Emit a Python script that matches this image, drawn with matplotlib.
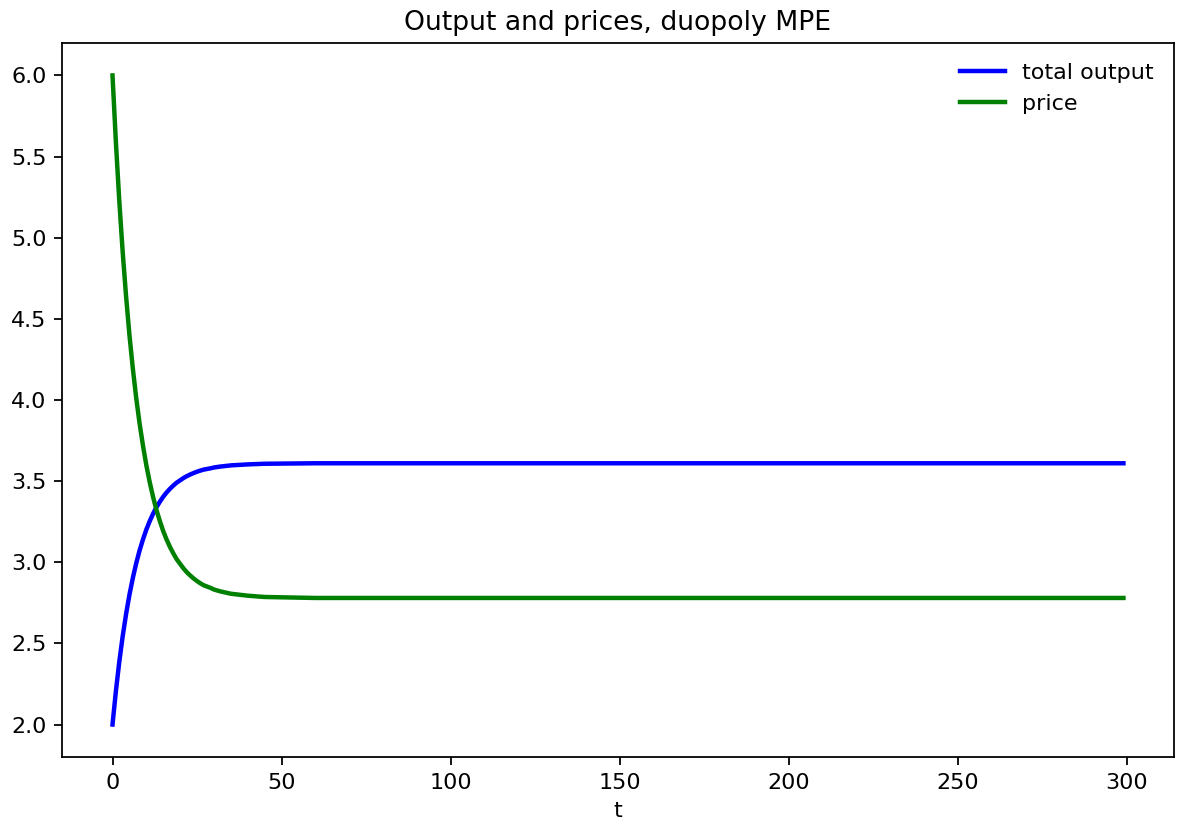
import numpy as np
import matplotlib.pyplot as plt

# values (transient, then flat)
t = [0, 1, 2, 3, 4, 5, 6, 7, 8, 9, 10, 11, 12, 13, 14, 15, 16, 17, 18, 19,
     20, 21, 22, 23, 24, 25, 26, 27, 28, 29, 30, 32, 35, 40, 45, 50, 55, 60, 299]
total_output = [2.000, 2.206, 2.386, 2.543, 2.679, 2.799, 2.902, 2.993, 3.072,
                3.140, 3.201, 3.253, 3.299, 3.339, 3.373, 3.404, 3.430, 3.453,
                3.473, 3.491, 3.505, 3.519, 3.531, 3.541, 3.550, 3.558, 3.565,
                3.571, 3.575, 3.579, 3.584, 3.590, 3.597, 3.603, 3.607, 3.608,
                3.609, 3.610, 3.610]
price = [6.000, 5.588, 5.228, 4.914, 4.642, 4.402, 4.196, 4.014, 3.856,
         3.720, 3.598, 3.494, 3.402, 3.322, 3.254, 3.192, 3.140, 3.094,
         3.054, 3.018, 2.990, 2.962, 2.938, 2.918, 2.900, 2.884, 2.870,
         2.858, 2.850, 2.842, 2.832, 2.820, 2.806, 2.794, 2.786, 2.784,
         2.782, 2.780, 2.780]

dpi = 160
fig, ax = plt.subplots(figsize=(1178 / dpi, 823 / dpi), dpi=dpi)
fig.subplots_adjust(left=0.0526, right=0.9966, top=0.9478, bottom=0.0802)

ax.plot(t, total_output, 'b-', lw=2, label='total output')
ax.plot(t, price, 'g-', lw=2, label='price')
ax.set_title('Output and prices, duopoly MPE')
ax.set_xlabel('t')
ax.legend(frameon=False)

fig.savefig('out.png', dpi=dpi)
